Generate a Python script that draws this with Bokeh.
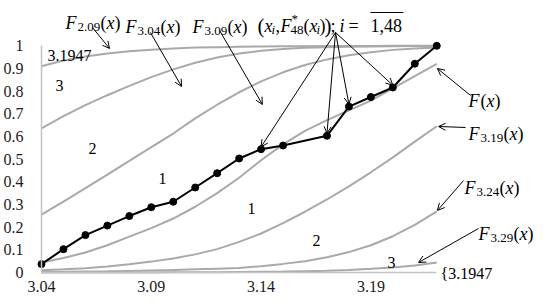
from bokeh.plotting import figure
from bokeh.models import Range1d, FixedTicker, NumeralTickFormatter, Label, Arrow, OpenHead
from bokeh.embed import file_html
from bokeh.resources import INLINE

# ---- data ----
x_grid = [3.04, 3.05, 3.06, 3.07, 3.08, 3.09, 3.10, 3.11, 3.12, 3.13,
          3.14, 3.15, 3.16, 3.17, 3.18, 3.19, 3.20, 3.21, 3.22]
F_299 = [0.91, 0.935, 0.953, 0.966, 0.976, 0.983, 0.988, 0.992, 0.994, 0.996,
         0.997, 0.998, 0.998, 0.999, 0.999, 0.999, 1.0, 1.0, 1.0]
F_304 = [0.636, 0.69, 0.738, 0.782, 0.823, 0.862, 0.896, 0.925, 0.948, 0.966,
         0.978, 0.986, 0.991, 0.994, 0.996, 0.997, 0.998, 0.999, 0.999]
F_309 = [0.255, 0.313, 0.372, 0.432, 0.492, 0.553, 0.613, 0.68, 0.74, 0.795,
         0.843, 0.883, 0.915, 0.94, 0.958, 0.972, 0.982, 0.988, 0.993]
F_main = [0.044, 0.064, 0.088, 0.12, 0.158, 0.196, 0.238, 0.29, 0.35, 0.418,
          0.495, 0.565, 0.625, 0.672, 0.715, 0.758, 0.812, 0.866, 0.92]
F_319 = [0.01, 0.014, 0.019, 0.026, 0.036, 0.048, 0.062, 0.08, 0.103, 0.135,
         0.172, 0.218, 0.268, 0.322, 0.38, 0.442, 0.508, 0.577, 0.645]
F_324 = [0.002, 0.003, 0.004, 0.005, 0.007, 0.009, 0.011, 0.014, 0.017, 0.02,
         0.028, 0.038, 0.05, 0.067, 0.09, 0.12, 0.16, 0.21, 0.27]
F_329 = [0.0, 0.0, 0.0, 0.0, 0.0, 0.0, 0.001, 0.001, 0.001, 0.002,
         0.003, 0.004, 0.006, 0.008, 0.011, 0.016, 0.022, 0.031, 0.044]

emp_x = [3.04, 3.05, 3.06, 3.07, 3.08, 3.09, 3.10, 3.11, 3.12, 3.13, 3.14, 3.15,
         3.17, 3.18, 3.19, 3.20, 3.21, 3.22]
emp_y = [0.037, 0.103, 0.165, 0.207, 0.249, 0.288, 0.312, 0.375, 0.438, 0.503, 0.544, 0.560,
         0.603, 0.732, 0.774, 0.816, 0.921, 1.0]

x_ticks = [3.04, 3.09, 3.14, 3.19]
y_ticks = [0, 0.1, 0.2, 0.3, 0.4, 0.5, 0.6, 0.7, 0.8, 0.9, 1.0]

GRAY = "#a9a9a9"
AXIS = "#c4c4c4"
SERIF = "Liberation Serif"

p = figure(width=534, height=298, output_backend="svg", toolbar_location=None,
           x_range=Range1d(3.02133, 3.2645), y_range=Range1d(-0.1147, 1.1645),
           min_border_left=0, min_border_right=0, min_border_top=8, min_border_bottom=0)
p.outline_line_color = None
p.grid.visible = False
p.background_fill_color = "white"
p.border_fill_color = "white"

for ax in (p.xaxis, p.yaxis):
    ax.axis_line_color = AXIS
    ax.axis_line_width = 1.5
    ax.major_tick_line_color = None
    ax.minor_tick_line_color = None
    ax.major_label_text_font = SERIF
    ax.major_label_text_font_size = "16px"
    ax.major_label_text_color = "#1a1a1a"

p.xaxis.ticker = FixedTicker(ticks=x_ticks)
p.xaxis.formatter = NumeralTickFormatter(format="0.00")
p.xaxis.bounds = (x_grid[0], x_grid[-1])
p.xaxis.fixed_location = 0
p.xaxis.major_label_standoff = 3
p.yaxis.ticker = FixedTicker(ticks=y_ticks)
p.yaxis.formatter = NumeralTickFormatter(format="0.[0]")
p.yaxis.bounds = (0, 1)
p.yaxis.fixed_location = x_grid[0]
p.yaxis.major_label_standoff = 12

for series in (F_299, F_304, F_309, F_main, F_319, F_324, F_329):
    p.line(x_grid, series, line_color=GRAY, line_width=2)

p.line(emp_x, emp_y, line_color="black", line_width=2)
p.scatter(emp_x, emp_y, size=7, color="black")


def lab(x, y, text, dx=0, dy=0, size=17, style="normal"):
    p.add_layout(Label(x=x, y=y, x_offset=dx, y_offset=dy, text=text,
                       text_font=SERIF, text_font_size=f"{size}px",
                       text_font_style=style, text_color="black",
                       text_align="left", text_baseline="alphabetic"))


def flabel(x, y, sub):
    lab(x, y, "F", 0, 0, 18, "italic")
    off = 12
    if sub:
        lab(x, y, sub, 12, -4, 13)
        off = 35
    lab(x, y, "(", off, 0, 18)
    lab(x, y, "x", off + 6, 0, 18, "italic")
    lab(x, y, ")", off + 14, 0, 18)


flabel(3.0509, 1.0984, "2.09")
flabel(3.0783, 1.0851, "3.04")
flabel(3.1088, 1.0851, "3.09")
flabel(3.2344, 0.7543, "")
flabel(3.2344, 0.6131, "3.19")
flabel(3.2326, 0.3749, "3.24")
flabel(3.2390, 0.172, "3.29")

# (x_i, F*_48(x_i)); i = 1,48
ax_, ay_ = 3.1384, 1.0895
lab(ax_, ay_, "(", 0, 0, 21)
lab(ax_, ay_, "x", 7, 0, 18, "italic")
lab(ax_, ay_, "i", 14, -4, 13, "italic")
lab(ax_, ay_, ",", 18, 0, 18)
lab(ax_, ay_, "F", 23, 0, 18, "italic")
lab(ax_, ay_, "*", 34, 7, 13)
lab(ax_, ay_, "48", 33, -4, 13)
lab(ax_, ay_, "(", 46, 0, 18)
lab(ax_, ay_, "x", 52, 0, 18, "italic")
lab(ax_, ay_, "i", 59, -4, 13, "italic")
lab(ax_, ay_, ")", 62, 0, 18)
lab(ax_, ay_, ")", 67, 0, 21)
lab(ax_, ay_, ";", 73, 0, 18)
lab(ax_, ay_, "i", 82, 0, 18, "italic")
lab(ax_, ay_, "=", 91, 0, 18)
lab(ax_, ay_, "1,48", 113, 0, 18)
p.add_layout(Arrow(end=None, x_start=3.1898, y_start=1.1469, x_end=3.2048, y_end=1.1469,
                   line_color="black", line_width=1))

lab(3.0427, 0.957, "3.1947", 0, 0, 16)
lab(3.2217, -0.004, "{3.1947", 0, 0, 16)

for (rx, ry, t) in [(3.0464, 0.825, "3"), (3.0614, 0.547, "2"), (3.0933, 0.4146, "1"),
                    (3.1338, 0.2823, "1"), (3.1634, 0.1412, "2"), (3.1976, 0.0441, "3")]:
    lab(rx, ry, t, 0, 0, 16)


def arrow(xs, ys, xe, ye):
    p.add_layout(Arrow(end=OpenHead(size=7, line_width=1, line_color="black"),
                       x_start=xs, y_start=ys, x_end=xe, y_end=ye,
                       line_color="black", line_width=1))


arrow(3.0632, 1.0807, 3.071, 0.9881)
arrow(3.0896, 1.0587, 3.1038, 0.8205)
arrow(3.1211, 1.0675, 3.1406, 0.7411)
for k in (10, 12, 13, 15):
    arrow(3.1739, 1.0587, emp_x[k], emp_y[k] + 0.01)
arrow(3.2354, 0.7808, 3.2203, 0.8999)
arrow(3.2331, 0.6396, 3.2208, 0.644)
arrow(3.2322, 0.4058, 3.2203, 0.2735)
arrow(3.2390, 0.1941, 3.2117, 0.0441)

open("out.html", "w").write(file_html(p, INLINE))
